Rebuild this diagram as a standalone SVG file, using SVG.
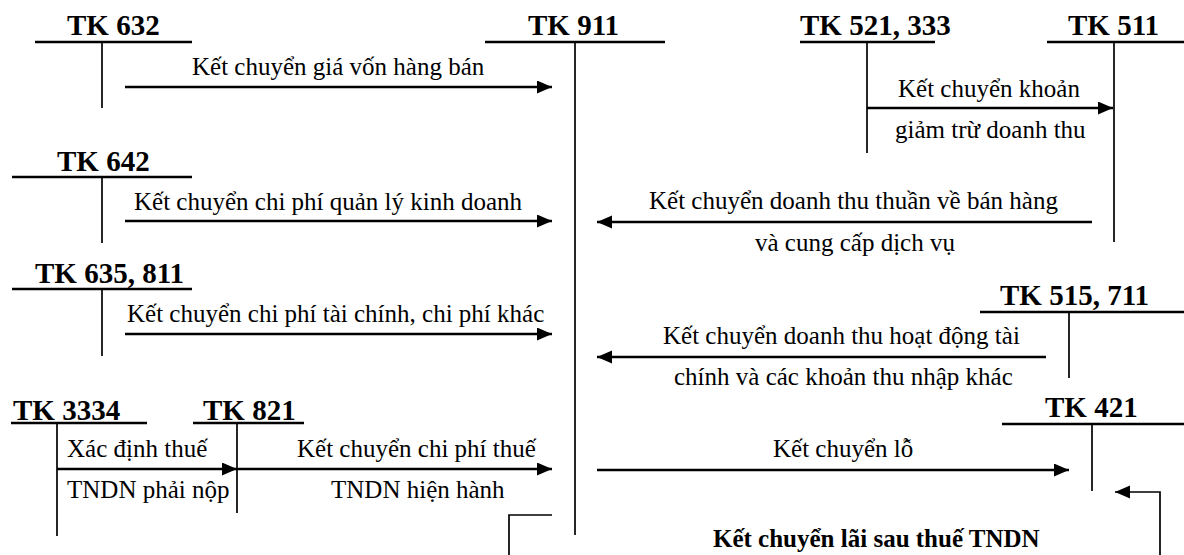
<svg xmlns="http://www.w3.org/2000/svg" width="1184" height="555" viewBox="0 0 1184 555">
<style>
.h{font-family:"Liberation Serif","Times New Roman",serif;font-weight:bold;font-size:29px;fill:#000}
.l{font-family:"Liberation Serif","Times New Roman",serif;font-size:25px;fill:#000}
.b{font-family:"Liberation Serif","Times New Roman",serif;font-weight:bold;font-size:25px;fill:#000}
.th{stroke:#000;stroke-width:2.3;fill:none}
.tv{stroke:#000;stroke-width:1.7;fill:none}
.ar{stroke:#000;stroke-width:2.3;fill:none;marker-end:url(#ah)}
.br{stroke:#000;stroke-width:1.7;fill:none}
</style>
<defs>
<marker id="ah" markerUnits="userSpaceOnUse" markerWidth="16" markerHeight="14" refX="15" refY="6.5" orient="auto">
<path d="M0,0 L15,6.5 L0,13 z" fill="#000"/>
</marker>
</defs>
<rect width="1184" height="555" fill="#fff"/>
<g id="tk632"><text class="h" x="67" y="35">TK 632</text><line class="th" x1="35" y1="42" x2="192" y2="42"/><line class="tv" x1="102" y1="42" x2="102" y2="108"/></g>
<g id="tk911"><text class="h" x="528" y="35">TK 911</text><line class="th" x1="485" y1="42" x2="665" y2="42"/><line class="tv" x1="575" y1="42" x2="575" y2="535"/></g>
<g id="tk521"><text class="h" x="800" y="35">TK 521, 333</text><line class="th" x1="800" y1="42" x2="935" y2="42"/><line class="tv" x1="867" y1="42" x2="867" y2="153"/></g>
<g id="tk511"><text class="h" x="1068" y="35">TK 511</text><line class="th" x1="1047" y1="42" x2="1184" y2="42"/><line class="tv" x1="1114" y1="42" x2="1114" y2="242"/></g>
<g id="tk642"><text class="h" x="57" y="171">TK 642</text><line class="th" x1="12" y1="177" x2="192" y2="177"/><line class="tv" x1="102" y1="177" x2="102" y2="243"/></g>
<g id="tk635"><text class="h" x="35" y="283">TK 635, 811</text><line class="th" x1="12" y1="289" x2="192" y2="289"/><line class="tv" x1="102" y1="289" x2="102" y2="356"/></g>
<g id="tk515"><text class="h" x="1000" y="305">TK 515, 711</text><line class="th" x1="980" y1="312" x2="1184" y2="312"/><line class="tv" x1="1069" y1="312" x2="1069" y2="378"/></g>
<g id="tk3334"><text class="h" x="13" y="420">TK 3334</text><line class="th" x1="11" y1="423" x2="147" y2="423"/><line class="tv" x1="57" y1="423" x2="57" y2="536"/></g>
<g id="tk821"><text class="h" x="203" y="420">TK 821</text><line class="th" x1="193" y1="423" x2="304" y2="423"/><line class="tv" x1="237" y1="423" x2="237" y2="513"/></g>
<g id="tk421"><text class="h" x="1045" y="417">TK 421</text><line class="th" x1="1002" y1="424" x2="1184" y2="424"/><line class="tv" x1="1092" y1="424" x2="1092" y2="491"/></g>
<g id="connectors">
<line class="ar" x1="125" y1="87" x2="552" y2="87"/>
<line class="ar" x1="867" y1="108" x2="1113" y2="108"/>
<line class="ar" x1="125" y1="221" x2="552" y2="221"/>
<line class="ar" x1="1092" y1="222" x2="597" y2="222"/>
<line class="ar" x1="125" y1="334" x2="552" y2="334"/>
<line class="ar" x1="1046" y1="357" x2="597" y2="357"/>
<line class="ar" x1="57" y1="469" x2="237" y2="469"/>
<line class="ar" x1="237" y1="469" x2="552" y2="469"/>
<line class="ar" x1="597" y1="470" x2="1069" y2="470"/>
<path class="br" d="M552,515 H509 V560"/>
<path class="br" d="M1160,560 V492 H1115" marker-end="url(#ah)"/>
</g>
<g id="labels">
<text class="l" x="192" y="75">Kết chuyển giá vốn hàng bán</text>
<text class="l" x="898" y="97">Kết chuyển khoản</text>
<text class="l" x="895" y="138">giảm trừ doanh thu</text>
<text class="l" x="134" y="210">Kết chuyển chi phí quản lý kinh doanh</text>
<text class="l" x="649" y="209">Kết chuyển doanh thu thuần về bán hàng</text>
<text class="l" x="755" y="251">và cung cấp dịch vụ</text>
<text class="l" x="127" y="322">Kết chuyển chi phí tài chính, chi phí khác</text>
<text class="l" x="663" y="344">Kết chuyển doanh thu hoạt động tài</text>
<text class="l" x="674" y="385">chính và các khoản thu nhập khác</text>
<text class="l" x="67" y="457">Xác định thuế</text>
<text class="l" x="67" y="498">TNDN phải nộp</text>
<text class="l" x="297" y="457">Kết chuyển chi phí thuế</text>
<text class="l" x="331" y="498">TNDN hiện hành</text>
<text class="l" x="773" y="457">Kết chuyển lỗ</text>
<text class="b" x="713" y="547">Kết chuyển lãi sau thuế TNDN</text>
</g>
</svg>
